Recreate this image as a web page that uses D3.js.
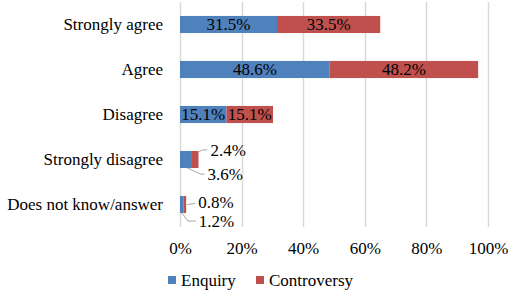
<!DOCTYPE html>
<html>
<head>
<meta charset="utf-8">
<script src="https://cdn.jsdelivr.net/npm/d3@7"></script>
<style>
  body { margin: 0; background: #fff; }
</style>
</head>
<body>
<div id="chart"></div>
<script>
// categories, top to bottom
const categories = ['Strongly agree', 'Agree', 'Disagree', 'Strongly disagree', 'Does not know/answer'];
const enquiry = [31.5, 48.6, 15.1, 3.6, 1.2];
const controversy = [33.5, 48.2, 15.1, 2.4, 0.8];
const seriesNames = ['Enquiry', 'Controversy'];
const xTicks = [0, 20, 40, 60, 80, 100];

const colors = ['#4F81BD', '#C0504D'];
const fontFamily = "'Liberation Serif', Tinos, 'Times New Roman', 'DejaVu Serif', serif";
const width = 510, height = 292;
const margin = { top: 2, right: 22, bottom: 65, left: 180 };
const innerW = width - margin.left - margin.right;
const innerH = height - margin.top - margin.bottom;

const svg = d3.select('#chart').append('svg')
  .attr('width', width)
  .attr('height', height)
  .style('font-family', fontFamily);

const g = svg.append('g')
  .attr('transform', `translate(${margin.left},${margin.top})`);

const x = d3.scaleLinear().domain([0, 100]).range([0, innerW]);
const y = d3.scaleBand().domain(categories).range([0, innerH]).paddingInner(0.62).paddingOuter(0.31);

// gridlines
g.selectAll('.grid')
  .data(xTicks)
  .enter()
  .append('line')
  .attr('class', 'grid')
  .attr('x1', d => Math.round(x(d)) + 0.5)
  .attr('x2', d => Math.round(x(d)) + 0.5)
  .attr('y1', 0)
  .attr('y2', innerH)
  .attr('stroke', '#D9D9D9')
  .attr('stroke-width', 1.5);

// stack the two series
const rows = categories.map((c, i) => ({ cat: c, values: [enquiry[i], controversy[i]] }));
const segs = [];
rows.forEach(r => {
  let acc = 0;
  r.values.forEach((v, s) => {
    segs.push({ cat: r.cat, s, v, x0: acc, x1: acc + v });
    acc += v;
  });
});

g.selectAll('.bar')
  .data(segs)
  .enter()
  .append('rect')
  .attr('class', 'bar')
  .attr('x', d => x(d.x0))
  .attr('y', d => y(d.cat))
  .attr('width', d => x(d.x1) - x(d.x0))
  .attr('height', y.bandwidth())
  .attr('fill', d => colors[d.s]);

const fmt = v => v.toFixed(1) + '%';

function addText(sel) {
  return sel.style('font-family', fontFamily).style('font-size', '17px').attr('fill', '#000');
}

// labels inside the wide segments
addText(g.selectAll('.inlabel')
  .data(segs.filter(d => d.v >= 10))
  .enter()
  .append('text')
  .attr('class', 'inlabel')
  .attr('x', d => (x(d.x0) + x(d.x1)) / 2)
  .attr('y', d => y(d.cat) + y.bandwidth() / 2)
  .attr('dy', '0.35em')
  .attr('text-anchor', 'middle'))
  .text(d => fmt(d.v));

// small segments get labels outside with leader lines
const small = segs.filter(d => d.v < 10);
small.forEach(d => {
  const top = y(d.cat), bot = top + y.bandwidth();
  let pts, tx, ty;
  if (d.s === 1) {
    // controversy: label above right
    const bx = x(d.x1);
    if (d.v > 1) {
      ty = top;
      pts = [[bx, top + 1], [bx + 4, ty - 1], [bx + 9, ty - 1]];
    } else {
      ty = top + y.bandwidth() / 2 - 1;
      pts = [[bx + 1, ty + 1], [bx + 9, ty]];
    }
    tx = pts[pts.length - 1][0] + 3;
    ty = ty - 1;
  } else {
    // enquiry: label below right
    const big = d.v > 2;
    const bx = (x(d.x0) + x(d.x1)) / 2 + (big ? 2 : 0);
    ty = bot + (big ? 6 : 8);
    pts = [[bx, bot], [bx + (big ? 13 : 6), ty], [bx + (big ? 17 : 14), ty]];
    tx = pts[2][0] + 3;
  }
  g.append('path')
    .attr('d', d3.line()(pts))
    .attr('fill', 'none')
    .attr('stroke', '#A6A6A6')
    .attr('stroke-width', 1);
  addText(g.append('text')
    .attr('x', tx)
    .attr('y', ty)
    .attr('dy', '0.35em'))
    .text(fmt(d.v));
});

// category labels
addText(g.selectAll('.cat')
  .data(categories)
  .enter()
  .append('text')
  .attr('class', 'cat')
  .attr('x', -17)
  .attr('y', d => y(d) + y.bandwidth() / 2)
  .attr('dy', '0.35em')
  .attr('text-anchor', 'end'))
  .text(d => d);

// x axis
const xAxis = d3.axisBottom(x)
  .tickValues(xTicks)
  .tickFormat(d => d + '%')
  .tickSize(0)
  .tickPadding(15);

const ax = g.append('g')
  .attr('transform', `translate(0,${innerH})`)
  .call(xAxis)
  .attr('font-family', null)
  .attr('font-size', null);
ax.select('.domain').remove();
addText(ax.selectAll('text'));

// legend
const legendX = [168, 256];
const legend = svg.append('g').attr('class', 'legend');
seriesNames.forEach((name, i) => {
  legend.append('rect')
    .attr('x', legendX[i])
    .attr('y', 276)
    .attr('width', 8)
    .attr('height', 8)
    .attr('fill', colors[i]);
  addText(legend.append('text')
    .attr('x', legendX[i] + 13)
    .attr('y', 280)
    .attr('dy', '0.35em'))
    .text(name);
});
</script>
</body>
</html>
